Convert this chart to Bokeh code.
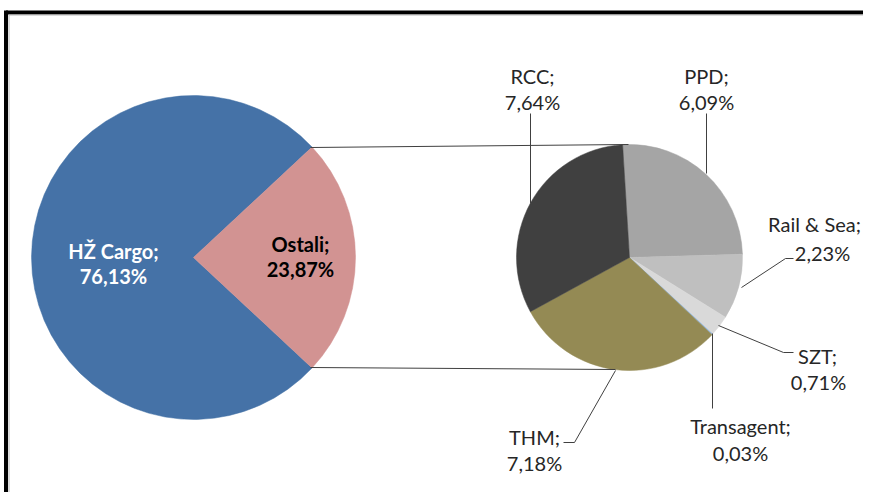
import math
from bokeh.plotting import figure
from bokeh.models import Range1d, ColumnDataSource
from bokeh.core.properties import value
from bokeh.embed import file_html
from bokeh.resources import INLINE

# ---- data ----
big_labels = ["HŽ Cargo", "Ostali"]
big_values = [76.13, 23.87]
big_colors = ["#4572A7", "#D29392"]

small_labels = ["PPD", "Rail & Sea", "SZT", "Transagent", "THM", "RCC"]
small_values = [6.09, 2.23, 0.71, 0.03, 7.18, 7.64]
small_colors = ["#A5A5A5", "#BFBFBF", "#D9D9D9", "#8DB4E2", "#948A54", "#404040"]

def fmt(v):
    return ("%.2f" % v).replace(".", ",") + "%"

W, H = 863, 492

def Y(py):
    return H - py

p = figure(width=W, height=H, output_backend="svg", toolbar_location=None,
           x_range=Range1d(0, W), y_range=Range1d(0, H), min_border=0)
p.axis.visible = False
p.grid.visible = False
p.outline_line_color = None
p.background_fill_color = "white"

# frame
p.line([5.5, W], [Y(12), Y(12)], line_color="black", line_width=4)
p.line([5.5, 5.5], [Y(10), Y(H)], line_color="black", line_width=4)
p.line([8.5, W], [Y(14.5), Y(14.5)], line_color="#B8B8B8", line_width=1)
p.line([8.5, 8.5], [Y(14.5), Y(H)], line_color="#B8B8B8", line_width=1)

# big pie
bx, by, br = 193, 257, 162
total_big = sum(big_values)
half = big_values[1] / total_big * math.pi
big_start = [half, -half]
big_end = [2 * math.pi - half, half]
src_big = ColumnDataSource(dict(x=[bx, bx], y=[Y(by), Y(by)], start=big_start, end=big_end,
                                color=big_colors))
p.wedge(x="x", y="y", radius=br, start_angle="start", end_angle="end",
        fill_color="color", line_color="color", line_width=0.5, source=src_big)

# small pie
sx, sy, sr = 629, 257, 113
total_small = sum(small_values)
rot = math.radians(3.5)
start0 = math.pi / 2 + rot
starts, ends = [], []
cum = 0.0
for v in small_values:
    a0 = start0 - cum / total_small * 2 * math.pi
    cum += v
    a1 = start0 - cum / total_small * 2 * math.pi
    starts.append(a1)
    ends.append(a0)
src_small = ColumnDataSource(dict(x=[sx] * len(small_values), y=[Y(sy)] * len(small_values),
                                  start=starts, end=ends, color=small_colors))
p.wedge(x="x", y="y", radius=sr, start_angle="start", end_angle="end",
        fill_color="color", line_color="color", line_width=0.5, source=src_small)

# connector lines
p.line([310, 628], [Y(147), Y(144)], line_color="#404040", line_width=1)
p.line([310, 615], [Y(367), Y(369)], line_color="#404040", line_width=1)

# leader lines
leaders = [
    [(530, 113), (530, 203)],
    [(706, 113), (706, 173)],
    [(741, 287), (785, 258), (793, 258)],
    [(718, 325), (783, 352), (793, 352)],
    [(712, 333), (712, 408)],
    [(615, 370), (574, 442), (563, 442)],
]
for pts in leaders:
    p.line([a for a, b in pts], [Y(b) for a, b in pts], line_color="#404040", line_width=1)

FONT = value("Lato")

# big labels
p.text(x=[113, 113], y=[Y(250), Y(275)],
       text=[big_labels[0] + ";", fmt(big_values[0])],
       text_font=FONT, text_font_style="bold", text_font_size="20px",
       text_color="white", text_align="center", text_baseline="middle")
p.text(x=[300, 300], y=[Y(243), Y(268)],
       text=[big_labels[1] + ";", fmt(big_values[1])],
       text_font=FONT, text_font_style="bold", text_font_size="20px",
       text_color="black", text_align="center", text_baseline="middle")

# small labels
pos = {
    "PPD": (706, 75, 706, 101),
    "Rail & Sea": (814, 223, 822, 252),
    "SZT": (817, 355, 818, 381),
    "Transagent": (740, 425, 740, 452),
    "THM": (534, 436, 534, 462),
    "RCC": (532, 75, 532, 101),
}
xs, ys, ts = [], [], []
for lab, v in zip(small_labels, small_values):
    x1, y1, x2, y2 = pos[lab]
    xs += [x1, x2]
    ys += [Y(y1), Y(y2)]
    ts += [lab + ";", fmt(v)]
p.text(x=xs, y=ys, text=ts, text_font=FONT, text_font_size="20px",
       text_color="#262626", text_align="center", text_baseline="middle")

open("out.html", "w").write(file_html(p, INLINE))
